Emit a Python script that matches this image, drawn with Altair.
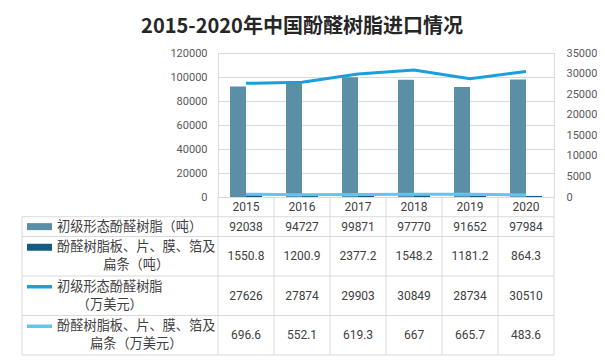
import altair as alt
import pandas as pd

# ---------------- data ----------------
YEARS = ["2015", "2016", "2017", "2018", "2019", "2020"]
RESIN_T = [92038, 94727, 99871, 97770, 91652, 97984]
SHEET_T = [1550.8, 1200.9, 2377.2, 1548.2, 1181.2, 864.3]
RESIN_USD = [27626, 27874, 29903, 30849, 28734, 30510]
SHEET_USD = [696.6, 552.1, 619.3, 667, 665.7, 483.6]

SERIES = [
    "初级形态酚醛树脂（吨）",
    "酚醛树脂板、片、膜、箔及扁条（吨）",
    "初级形态酚醛树脂（万美元）",
    "酚醛树脂板、片、膜、箔及扁条（万美元）",
]
ROW_LINES = [
    ["初级形态酚醛树脂（吨）"],
    ["酚醛树脂板、片、膜、箔及", "扁条（吨）"],
    ["初级形态酚醛树脂", "（万美元）"],
    ["酚醛树脂板、片、膜、箔及", "扁条（万美元）"],
]
TITLE = "2015-2020年中国酚醛树脂进口情况"
LEFT_TICKS = [0, 20000, 40000, 60000, 80000, 100000, 120000]
RIGHT_TICKS = [0, 5000, 10000, 15000, 20000, 25000, 30000, 35000]

# ---------------- style / layout ----------------
COLORS = ["#5B8FA8", "#135C7F", "#1A9FDA", "#62C5EE"]
W, H = 336, 144
UNIT = 19.75          # px per text line in the data table
LH = 18               # line height of wrapped legend labels
CJK = "Noto Sans CJK SC"
NUM = "Roboto"
TXT = "#404040"
GRID = "#d9d9d9"
TABLE_LEFT = -196
KEY_X0, KEY_X1 = -191, -166
LABEL_X = -161
LABEL_FS = 13.2

xscale = alt.Scale(type="band", domain=YEARS, paddingInner=0, paddingOuter=0)
tscale = alt.Scale(domain=[-H / UNIT, 0], reverse=True, zero=False, nice=False)

# ---------------- tables ----------------
bars = pd.DataFrame(
    [(y, SERIES[0], v) for y, v in zip(YEARS, RESIN_T)]
    + [(y, SERIES[1], v) for y, v in zip(YEARS, SHEET_T)],
    columns=["year", "series", "value"],
)
lines = pd.DataFrame(
    [(y, SERIES[2], v) for y, v in zip(YEARS, RESIN_USD)]
    + [(y, SERIES[3], v) for y, v in zip(YEARS, SHEET_USD)],
    columns=["year", "series", "value"],
)

# row geometry in "line units"
row_units = [max(1, len(l)) for l in ROW_LINES]
tops = []
cur = 1.0  # header occupies unit 0..1
for u in row_units:
    tops.append(cur)
    cur += u
bottom = cur

def fmt(v):
    return f"{v:g}"

value_rows = []
for r, series_vals in enumerate([RESIN_T, SHEET_T, RESIN_USD, SHEET_USD]):
    yc = tops[r] + row_units[r] / 2
    for y, v in zip(YEARS, series_vals):
        value_rows.append({"year": y, "yc": yc, "txt": fmt(v)})
values_df = pd.DataFrame(value_rows)
header_df = pd.DataFrame({"year": YEARS, "yc": [0.5] * len(YEARS)})

hlines_df = pd.DataFrame({"y": tops + [bottom]})
vlines_df = pd.DataFrame({"year": YEARS, "y": [0.0] * 6, "y2": [bottom] * 6})
vlast_df = pd.DataFrame({"year": [YEARS[-1]], "y": [0.0], "y2": [bottom]})
vleft_df = pd.DataFrame({"y": [tops[0]], "y2": [bottom]})

def line_y(r, i):
    n = len(ROW_LINES[r])
    return tops[r] + row_units[r] / 2 + (i - (n - 1) / 2) * LH / UNIT

keys_df = pd.DataFrame({
    "series": SERIES,
    "y": [line_y(r, 0) for r in range(4)],
    "sw": [7, 7, 3.5, 3.5],
})
label_rows = []
for r, l in enumerate(ROW_LINES):
    xc = LABEL_X + len(l[0]) * LABEL_FS / 2
    for i, t in enumerate(l):
        label_rows.append({"txt": t, "yc": line_y(r, i), "xc": xc})
labels_df = pd.DataFrame(label_rows)

# ---------------- chart layers ----------------
bar_layer = alt.Chart(bars).mark_bar().encode(
    x=alt.X("year:N", scale=xscale, axis=None),
    xOffset=alt.XOffset("series:N", scale=alt.Scale(domain=SERIES[:2], paddingInner=0, paddingOuter=0.75)),
    y=alt.Y("value:Q", scale=alt.Scale(domain=[0, 120000], nice=False),
            axis=alt.Axis(values=LEFT_TICKS, format="d", grid=True, gridColor=GRID, domain=False,
                          ticks=False, tickSize=0, labelPadding=11, title=None, labelFont=NUM,
                          labelFontSize=11, labelColor="#595959")),
    color=alt.Color("series:N", scale=alt.Scale(domain=SERIES[:2], range=COLORS[:2]), legend=None),
)

line_layer = alt.Chart(lines).mark_line(strokeWidth=3).encode(
    x=alt.X("year:N", scale=xscale, axis=None),
    y=alt.Y("value:Q", scale=alt.Scale(domain=[0, 35000], nice=False),
            axis=alt.Axis(orient="right", values=RIGHT_TICKS, format="d", grid=False, domain=False,
                          ticks=False, tickSize=0, labelPadding=12, title=None, labelFont=NUM,
                          labelFontSize=11, labelColor="#595959")),
    color=alt.Color("series:N", scale=alt.Scale(domain=SERIES[2:], range=COLORS[2:]), legend=None),
    detail="series:N",
)

hline_layer = alt.Chart(hlines_df).mark_rule(color=GRID, strokeWidth=1).encode(
    y=alt.Y("y:Q", scale=tscale, axis=None),
    x=alt.value(TABLE_LEFT),
    x2=alt.value(W),
)
vline_layer = alt.Chart(vlines_df).mark_rule(color=GRID, strokeWidth=1).encode(
    x=alt.X("year:N", scale=xscale, bandPosition=0, axis=None),
    y=alt.Y("y:Q", scale=tscale, axis=None),
    y2="y2:Q",
)
vlast_layer = alt.Chart(vlast_df).mark_rule(color=GRID, strokeWidth=1).encode(
    x=alt.X("year:N", scale=xscale, bandPosition=1, axis=None),
    y=alt.Y("y:Q", scale=tscale, axis=None),
    y2="y2:Q",
)
vleft_layer = alt.Chart(vleft_df).mark_rule(color=GRID, strokeWidth=1).encode(
    x=alt.value(TABLE_LEFT),
    y=alt.Y("y:Q", scale=tscale, axis=None),
    y2="y2:Q",
)

header_layer = alt.Chart(header_df).mark_text(font=NUM, fontSize=12, color=TXT, baseline="middle").encode(
    x=alt.X("year:N", scale=xscale, axis=None),
    y=alt.Y("yc:Q", scale=tscale, axis=None),
    text="year:N",
)
values_layer = alt.Chart(values_df).mark_text(font=NUM, fontSize=12, color=TXT, baseline="middle").encode(
    x=alt.X("year:N", scale=xscale, axis=None),
    y=alt.Y("yc:Q", scale=tscale, axis=None),
    text="txt:N",
)

key_layer = alt.Chart(keys_df).mark_rule(strokeCap="butt").encode(
    x=alt.value(KEY_X0),
    x2=alt.value(KEY_X1),
    y=alt.Y("y:Q", scale=tscale, axis=None),
    strokeWidth=alt.StrokeWidth("sw:Q", scale=None, legend=None),
    color=alt.Color("series:N", scale=alt.Scale(domain=SERIES, range=COLORS), legend=None),
)
label_layer = alt.Chart(labels_df).mark_text(
    font=CJK, fontSize=LABEL_FS, color=TXT, align="center", baseline="middle"
).encode(
    x=alt.X("xc:Q", scale=None, axis=None),
    y=alt.Y("yc:Q", scale=tscale, axis=None),
    text="txt:N",
)

chart = alt.layer(
    bar_layer, line_layer,
    hline_layer, vline_layer, vlast_layer, vleft_layer,
    header_layer, values_layer, key_layer, label_layer,
).resolve_scale(
    y="independent", color="independent"
).properties(
    width=W,
    height=H,
    autosize=alt.AutoSizeParams(type="none"),
    padding={"left": 210, "top": 45, "right": 43, "bottom": 159},
    title=alt.TitleParams(
        TITLE, font=CJK, fontSize=20, fontWeight="bold", color="#262626",
        anchor="middle", frame="group", dx=-84, offset=10,
    ),
).configure_view(stroke=None).configure(background="white")

chart.save("out.html", embed_options={"renderer": "svg", "actions": False})
